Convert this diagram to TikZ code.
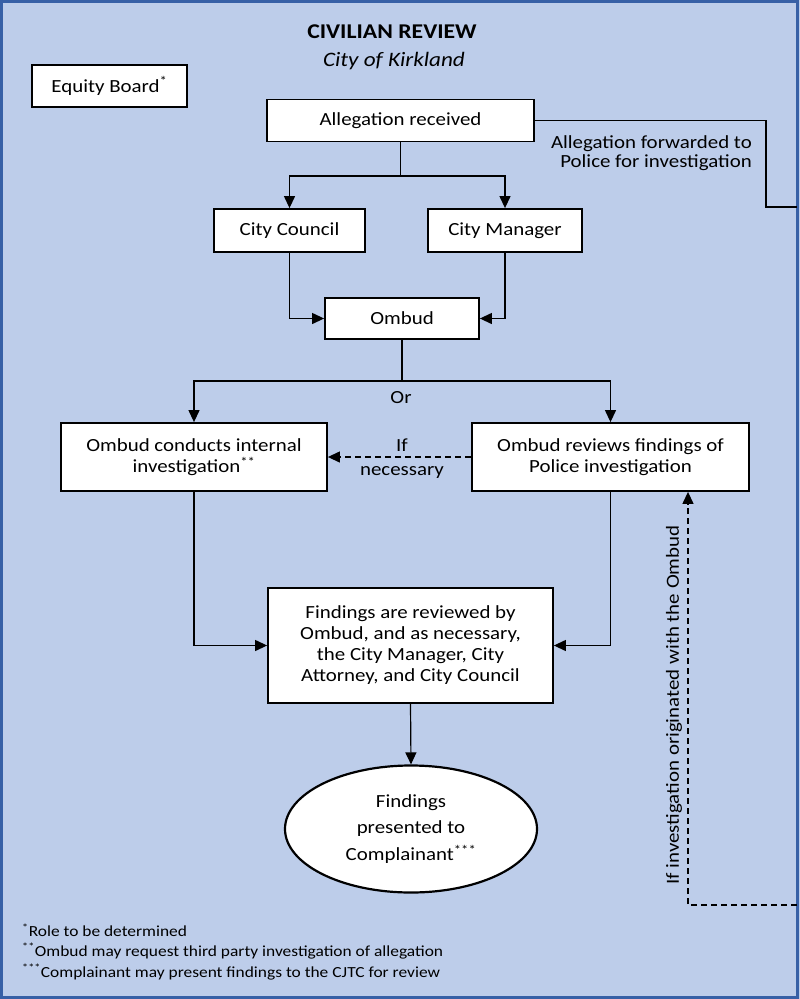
\documentclass[tikz,border=0pt]{standalone}
\usepackage{fontspec}
\setmainfont{Carlito}[FakeStretch=1.13]
\usetikzlibrary{arrows.meta,shapes.geometric}
\definecolor{bgblue}{HTML}{BDCDEA}
\definecolor{frameblue}{HTML}{3760A6}
\begin{document}
\begin{tikzpicture}[x=1pt,y=-1pt,
  box/.style={draw=black, fill=white, line width=1.8pt, inner sep=0pt, align=center,
    font=\fontsize{18.5}{21}\selectfont},
  conn/.style={line width=1.2pt, draw=black},
  arr/.style={conn, -{Triangle[length=12pt,width=11pt]}},
  dsh/.style={dash pattern=on 6pt off 4pt},
  lbl/.style={inner sep=0pt, align=center, font=\fontsize{18.5}{24}\selectfont},
  foot/.style={inner sep=0pt, anchor=west, font=\fontsize{15.4}{17}\selectfont}]
\useasboundingbox (0,0) rectangle (800,999);
\fill[bgblue] (0,0) rectangle (800,999);
\draw[frameblue, line width=3pt] (1.5,1.5) rectangle (797,997.5);

% titles
\node[inner sep=0pt, font=\fontsize{21}{24}\selectfont\bfseries] (title) at (392,32) {CIVILIAN REVIEW};
\node[inner sep=0pt, font=\fontsize{20.5}{24}\selectfont\itshape] (subtitle) at (394,61) {City of Kirkland};

% boxes
\node[box, minimum width=155pt, minimum height=42pt] (equity) at (109.5,86) {Equity Board\textsuperscript{*}};
\node[box, minimum width=267pt, minimum height=42pt] (alleg) at (400.5,120.5) {Allegation received};
\node[box, minimum width=151pt, minimum height=43pt] (council) at (289.5,230.5) {City Council};
\node[box, minimum width=154pt, minimum height=43pt] (manager) at (505,230.5) {City Manager};
\node[box, minimum width=154pt, minimum height=41pt] (ombud) at (402,318.5) {Ombud};
\node[box, minimum width=266pt, minimum height=68pt] (internal) at (194,457) {Ombud conducts internal\\investigation\textsuperscript{**}};
\node[box, minimum width=277pt, minimum height=68pt] (reviews) at (610.5,457) {Ombud reviews findings of\\Police investigation};
\node[box, minimum width=285pt, minimum height=115pt] (findings) at (410.5,645.5) {Findings are reviewed by\\Ombud, and as necessary,\\the City Manager, City\\Attorney, and City Council};
\node[box, ellipse, line width=2.2pt, minimum width=252pt, minimum height=127pt,
  font=\fontsize{18.5}{26.5}\selectfont] (outcome) at (411,829) {Findings\\presented to\\Complainant\textsuperscript{***}};

% connectors
\coordinate (j1) at (400.5,176);
\draw[conn] (alleg.south) -- (j1);
\draw[arr] (j1) -| (council.north);
\draw[arr] (j1) -| (manager.north);
\draw[arr] (council.south) |- (ombud.west);
\draw[arr] (manager.south) |- (ombud.east);
\coordinate (j2) at (402,381);
\draw[conn] (ombud.south) -- (j2);
\draw[arr] (j2) -| (internal.north);
\draw[arr] (j2) -| (reviews.north);
\node[lbl] (or) at (401,398) {Or};
\draw[arr, dsh] (reviews.west) -- (internal.east);
\node[lbl] (ifnec) at (402,459) {If\\necessary};
\draw[arr] (internal.south) |- (findings.west);
\draw[arr] (reviews.south) |- (findings.east);
\draw[arr] (findings.south) -- (outcome.north);

% forwarded to police
\coordinate (fwdc) at (766,207);
\coordinate (fwdend) at (797,207);
\draw[conn] (alleg.east) -| (fwdc) -- (fwdend);
\node[inner sep=0pt, align=right, anchor=north east, font=\fontsize{18.5}{19}\selectfont] (fwdlbl) at (752,135) {Allegation forwarded to\\Police for investigation};

% return from Ombud origin
\coordinate (retstart) at (797,905);
\coordinate (retc) at (688,905);
\draw[arr, dsh] (retstart) -- (retc) -- (retc |- reviews.south);
\node[lbl, rotate=90] (retlbl) at (674,705) {If investigation originated with the Ombud};

% footnotes
\node[foot] (f1) at (22,930) {\textsuperscript{*}Role to be determined};
\node[foot] (f2) at (22,951) {\textsuperscript{**}Ombud may request third party investigation of allegation};
\node[foot] (f3) at (22,972) {\textsuperscript{***}Complainant may present findings to the CJTC for review};
\end{tikzpicture}
\end{document}
